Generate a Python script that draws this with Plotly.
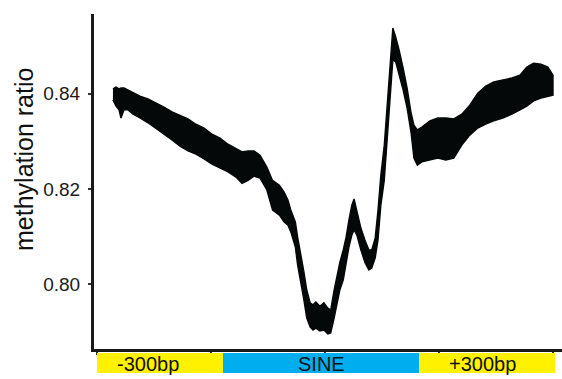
import plotly.graph_objects as go

# position along the aligned region (arbitrary units, 0..400)
pos = [14, 16.7, 19.3, 21, 23.7, 27.2, 31.6, 37.7, 44.7, 51.8, 58.8, 65.8, 72.8, 79.8, 86.8,
       93.9, 100.9, 107.9, 114.9, 121.9, 127.2, 132.5, 137.7,
       143, 149, 154, 160, 164, 167.5, 170, 174, 176, 179, 181.5, 184, 187, 189.5, 192, 195.5,
       199, 202.5, 205, 208, 210.5, 213, 216, 218.5, 221, 223.5, 225.5, 228, 231.5, 235, 238.5,
       241, 244, 246.5, 249, 252, 254.5, 257, 259.5, 262, 265, 268.5, 272, 275.5, 278, 281,
       285, 292, 299, 306, 313, 320, 327, 334, 341, 348, 356, 364, 371, 377, 383, 389.5, 395.5, 400]
upper = [0.8410, 0.8414, 0.8410, 0.8412, 0.8412, 0.8408, 0.8402, 0.8395, 0.8389, 0.8381,
         0.8372, 0.8362, 0.8355, 0.8347, 0.8336, 0.8328, 0.8315, 0.8307, 0.8294, 0.8284,
         0.8278, 0.8280, 0.8280,
         0.8271, 0.8246, 0.8218, 0.8208, 0.8194, 0.8177, 0.8156, 0.8131, 0.8099, 0.8061,
         0.8026, 0.7988, 0.7961, 0.7957, 0.7963, 0.7954, 0.7961, 0.7950, 0.7946, 0.7988,
         0.8019, 0.8046, 0.8072, 0.8099, 0.8135, 0.8166, 0.8179, 0.8156, 0.8118, 0.8093,
         0.8072, 0.8072, 0.8097, 0.8156, 0.8229, 0.8292, 0.8376, 0.8464, 0.8538, 0.8519,
         0.8492, 0.8454, 0.8412, 0.8360, 0.8334, 0.8324,
         0.8330, 0.8343, 0.8349, 0.8349, 0.8347, 0.8357, 0.8376, 0.8401, 0.8416, 0.8425,
         0.8429, 0.8433, 0.8439, 0.8456, 0.8464, 0.8462, 0.8456, 0.8439]
lower = [0.8387, 0.8374, 0.8366, 0.8349, 0.8366, 0.8366, 0.8357, 0.8349, 0.8339, 0.8326,
         0.8315, 0.8303, 0.8290, 0.8280, 0.8273, 0.8263, 0.8252, 0.8244, 0.8236, 0.8225,
         0.8212, 0.8218, 0.8227,
         0.8223, 0.8198, 0.8156, 0.8145, 0.8131, 0.8124, 0.8110, 0.8078, 0.8040, 0.7998,
         0.7967, 0.7929, 0.7910, 0.7904, 0.7908, 0.7902, 0.7904, 0.7896, 0.7898, 0.7929,
         0.7957, 0.7988, 0.8009, 0.8046, 0.8078, 0.8103, 0.8114, 0.8103, 0.8072, 0.8046,
         0.8030, 0.8034, 0.8055, 0.8093, 0.8166, 0.8218, 0.8307, 0.8393, 0.8471, 0.8467,
         0.8443, 0.8408, 0.8370, 0.8318, 0.8265, 0.8250,
         0.8257, 0.8261, 0.8265, 0.8261, 0.8265, 0.8292, 0.8313, 0.8328, 0.8336, 0.8343,
         0.8349, 0.8357, 0.8366, 0.8374, 0.8385, 0.8391, 0.8395, 0.8397]

# region annotation bar
region_labels = ["-300bp", "SINE", "+300bp"]
region_start = [0, 110.5, 282.5]
region_end = [110.5, 282.5, 402]
region_label_pos = [45, 196.5, 338]
region_colors = ["#FFF100", "#00AEEF", "#FFF100"]

y_ticks = [0.80, 0.82, 0.84]
y_ticktext = ["0.80", "0.82", "0.84"]
x_ticks = [0, 100, 200, 300, 400]

fig = go.Figure()
fig.add_trace(go.Scatter(
    x=pos + pos[::-1], y=upper + lower[::-1],
    fill="toself", fillcolor="#050808", mode="lines",
    line=dict(color="#050808", width=1.4), hoverinfo="skip", showlegend=False))

FONT = "Liberation Sans, Arial, sans-serif"
shapes = []
annotations = []
for lab, s, e, c, lp in zip(region_labels, region_start, region_end, region_colors, region_label_pos):
    shapes.append(dict(type="rect", xref="x", yref="paper", x0=s, x1=e,
                       y0=-0.0716, y1=-0.0119, fillcolor=c, line=dict(width=0), layer="above"))
    annotations.append(dict(text=lab, xref="x", yref="paper", x=lp, y=-0.044,
                            xanchor="center", yanchor="middle",
                            showarrow=False, font=dict(family=FONT, size=20, color="#111")))
annotations.append(dict(text="methylation ratio", xref="paper", yref="paper",
                        x=(24 - 94) / 468, y=(349 - 160) / 335, textangle=-90,
                        xanchor="center", yanchor="middle",
                        showarrow=False, font=dict(family=FONT, size=25, color="#111")))

fig.update_layout(
    width=562, height=379,
    margin=dict(l=94, r=0, t=14, b=30),
    plot_bgcolor="white", paper_bgcolor="white",
    shapes=shapes, annotations=annotations,
    xaxis=dict(range=[-2.63, 407.9], showgrid=False, zeroline=False,
               showline=True, linecolor="#1a1a1a", linewidth=3,
               tickvals=x_ticks, showticklabels=False,
               ticks="outside", ticklen=3, tickwidth=2, tickcolor="#333"),
    yaxis=dict(range=[0.78642, 0.85673], showgrid=False, zeroline=False,
               showline=True, linecolor="#1a1a1a", linewidth=3,
               tickvals=y_ticks, ticktext=y_ticktext,
               ticks="outside", ticklen=3, tickwidth=2, tickcolor="#333",
               ticklabelstandoff=4,
               tickfont=dict(family=FONT, size=19, color="#1a1a1a")),
)

fig.write_html("out.html")
